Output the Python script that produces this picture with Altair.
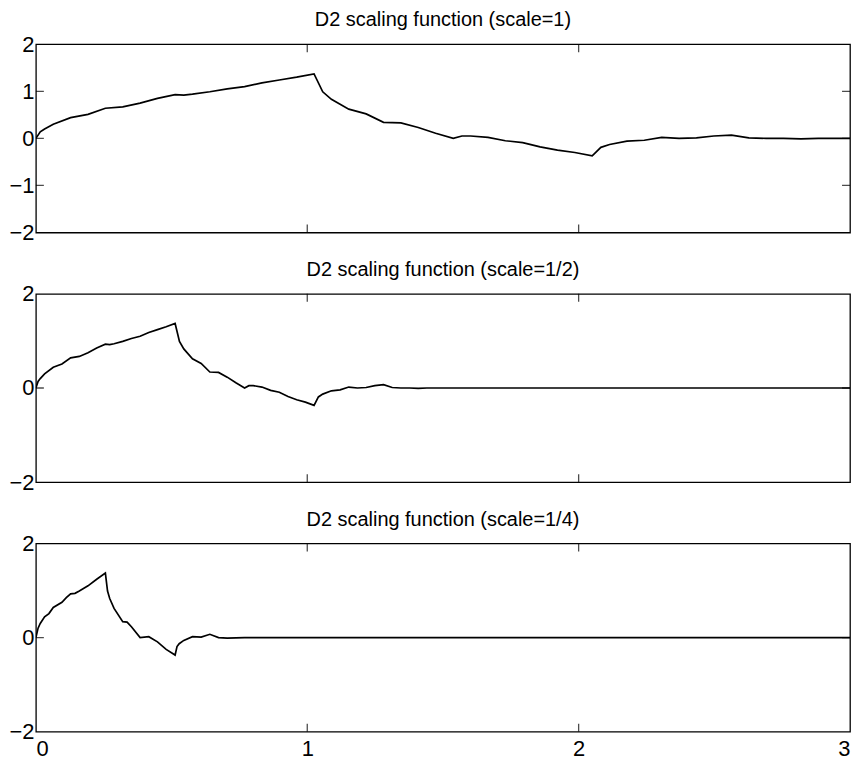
import altair as alt
import pandas as pd

FONT = "Liberation Sans"
TITLES = [
    "D2 scaling function (scale=1)",
    "D2 scaling function (scale=1/2)",
    "D2 scaling function (scale=1/4)",
]
X_TICKS = [0, 1, 2, 3]
Y_TICKS = [[-2, -1, 0, 1, 2], [-2, 0, 2], [-2, 0, 2]]
INNER_X = [1, 2]
INNER_Y = [[-1, 0, 1], [0], [0]]

# panel 1 (scale=1)
x1 = [0, 0.016, 0.032, 0.064, 0.128, 0.192, 0.256, 0.320, 0.384, 0.448,
      0.513, 0.545, 0.577, 0.641, 0.705, 0.769, 0.833, 0.897, 0.961, 1.025,
      1.057, 1.089, 1.153, 1.217, 1.281, 1.345, 1.409, 1.473, 1.538, 1.570,
      1.602, 1.666, 1.730, 1.794, 1.858, 1.922, 1.986, 2.050, 2.082, 2.114,
      2.178, 2.242, 2.306, 2.370, 2.434, 2.498, 2.563, 2.627, 2.691, 2.755,
      2.819, 2.883, 2.947, 3.0]
y1 = [0, 0.14, 0.20, 0.30, 0.44, 0.51, 0.64, 0.67, 0.75, 0.85,
      0.93, 0.92, 0.94, 0.99, 1.05, 1.10, 1.18, 1.24, 1.30, 1.37,
      0.99, 0.83, 0.62, 0.52, 0.34, 0.33, 0.23, 0.11, 0.00, 0.05,
      0.05, 0.02, -0.05, -0.09, -0.18, -0.25, -0.30, -0.37, -0.19, -0.13,
      -0.06, -0.04, 0.02, 0.00, 0.01, 0.05, 0.07, 0.01, 0.00, 0.00,
      -0.01, 0.00, 0.00, 0.00]

# panel 2 (scale=1/2)
x2 = [0, 0.008, 0.016, 0.032, 0.064, 0.096, 0.128, 0.160, 0.192, 0.224,
      0.256, 0.272, 0.288, 0.320, 0.352, 0.384, 0.416, 0.448, 0.480, 0.513,
      0.529, 0.545, 0.577, 0.609, 0.641, 0.673, 0.705, 0.737, 0.769, 0.785,
      0.801, 0.833, 0.865, 0.897, 0.929, 0.961, 0.993, 1.025, 1.041, 1.057,
      1.089, 1.121, 1.153, 1.185, 1.217, 1.249, 1.281, 1.313, 1.345, 1.377,
      1.409, 1.441, 1.473, 1.538, 3.0]
y2 = [0, 0.14, 0.20, 0.30, 0.44, 0.51, 0.64, 0.67, 0.75, 0.85,
      0.93, 0.92, 0.94, 0.99, 1.05, 1.10, 1.18, 1.24, 1.30, 1.37,
      0.99, 0.83, 0.62, 0.52, 0.34, 0.33, 0.23, 0.11, 0.00, 0.05,
      0.05, 0.02, -0.05, -0.09, -0.18, -0.25, -0.30, -0.37, -0.19, -0.13,
      -0.06, -0.04, 0.02, 0.00, 0.01, 0.05, 0.07, 0.01, 0.00, 0.00,
      -0.01, 0.00, 0.00, 0.00, 0.00]

# panel 3 (scale=1/4)
x3 = [0, 0.008, 0.016, 0.032, 0.048, 0.064, 0.096, 0.112, 0.128, 0.144,
      0.160, 0.192, 0.224, 0.256, 0.264, 0.272, 0.288, 0.320, 0.336, 0.352,
      0.384, 0.416, 0.448, 0.480, 0.513, 0.520, 0.528, 0.545, 0.577, 0.609,
      0.641, 0.673, 0.705, 0.769, 3.0]
y3 = [0, 0.20, 0.30, 0.44, 0.51, 0.64, 0.75, 0.85, 0.93, 0.94,
      0.99, 1.10, 1.24, 1.37, 0.99, 0.83, 0.62, 0.34, 0.33, 0.23,
      0.00, 0.02, -0.09, -0.25, -0.37, -0.19, -0.13, -0.06, 0.02, 0.01,
      0.07, 0.00, -0.01, 0.00, 0.00]

W, H = 817, 189
XS = alt.Scale(domain=[0, 3], nice=False, zero=False)
YS = alt.Scale(domain=[-2, 2], nice=False, zero=False)


def panel(xv, yv, title, yticks, inner_y, show_x):
    df = pd.DataFrame({"x": xv, "y": yv})
    xaxis = alt.Axis(values=X_TICKS, labels=show_x, ticks=False, domain=False,
                     grid=False, title=None, labelFontSize=22, labelPadding=7,
                     labelColor="black", labelFont=FONT, format="d")
    yaxis = alt.Axis(values=yticks, ticks=False, domain=False, grid=False,
                     title=None, labelFontSize=22, labelPadding=2,
                     labelColor="black", labelFont=FONT, format="d")
    line = alt.Chart(df).mark_line(color="black", strokeWidth=1.7, clip=True).encode(
        x=alt.X("x:Q", scale=XS, axis=xaxis),
        y=alt.Y("y:Q", scale=YS, axis=yaxis),
    )
    tx = pd.DataFrame({"x": INNER_X * 2, "y": [2] * len(INNER_X) + [-2] * len(INNER_X)})
    xt = alt.Chart(tx).mark_tick(orient="vertical", size=16, thickness=1.3,
                                 color="black", clip=True).encode(
        x=alt.X("x:Q", scale=XS, axis=xaxis),
        y=alt.Y("y:Q", scale=YS, axis=yaxis),
    )
    ty = pd.DataFrame({"x": [0] * len(inner_y) + [3] * len(inner_y), "y": inner_y * 2})
    yt = alt.Chart(ty).mark_tick(orient="horizontal", size=16, thickness=1.3,
                                 color="black", clip=True).encode(
        x=alt.X("x:Q", scale=XS, axis=xaxis),
        y=alt.Y("y:Q", scale=YS, axis=yaxis),
    )
    return alt.layer(line, xt, yt).properties(
        width=W, height=H,
        title=alt.TitleParams(title, fontSize=20, font=FONT, fontWeight="normal",
                              color="black", anchor="middle", offset=3),
    )


p1 = panel(x1, y1, TITLES[0], Y_TICKS[0], INNER_Y[0], False)
p2 = panel(x2, y2, TITLES[1], Y_TICKS[1], INNER_Y[1], False)
p3 = panel(x3, y3, TITLES[2], Y_TICKS[2], INNER_Y[2], True)

chart = alt.vconcat(p1, p2, p3, spacing=14.5).properties(
    padding={"left": 0, "top": 0, "right": 0, "bottom": 0},
    background="white",
).configure_view(stroke="black", strokeWidth=1.3)

chart.save("out.html", embed_options={"renderer": "svg", "actions": False})
